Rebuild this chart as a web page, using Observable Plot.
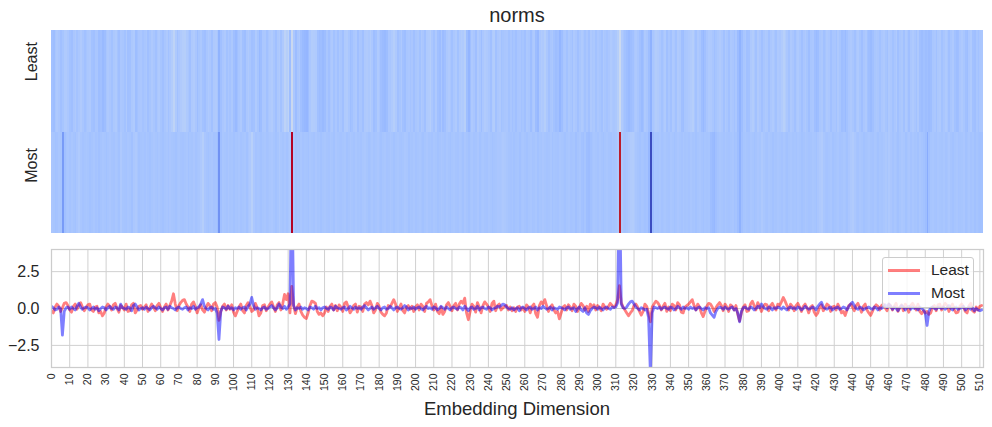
<!DOCTYPE html>
<html>
<head>
<meta charset="utf-8">
<script src="https://cdn.jsdelivr.net/npm/d3@7"></script>
<script src="https://cdn.jsdelivr.net/npm/@observablehq/plot@0.6"></script>
<style>
  body { margin: 0; background: #fff; }
  #wrap { position: relative; width: 992px; height: 427px; font-family: "Liberation Sans", Arial, sans-serif; color: #262626; overflow: hidden; }
  .abs { position: absolute; }
  #title { left: 51px; width: 932px; top: 5px; text-align: center; font-size: 20px; line-height: 1; }
  #xlabel { left: 51px; width: 932px; top: 400px; text-align: center; font-size: 18.5px; line-height: 1; }
  #legend { left: 882px; top: 257px; width: 92px; height: 51px; background: rgba(255,255,255,0.8); border: 1px solid #cccccc; border-radius: 3px; box-sizing: border-box; }
  .sw { position: absolute; left: 5px; width: 32px; height: 3px; }
  .lt { position: absolute; left: 48px; font-size: 15.5px; line-height: 1; }
</style>
</head>
<body>
<div id="wrap">
  <div id="title" class="abs">norms</div>
  <div id="heat" class="abs" style="left:0;top:30px"></div>
  <div id="lines" class="abs" style="left:0;top:233px"></div>
  <div id="xlabel" class="abs">Embedding Dimension</div>
  <div id="legend" class="abs"></div>
</div>
<script>
// ---- data ----
const rowNames = ["Least", "Most"];
const seriesColors = ["#ff0000", "#0000ff"];
const xTicks = d3.range(0, 511, 10);
const yTicks = [-2.5, 0, 2.5];

const least = [
-0.15,-0.3,0.1,0.3,0.15,-0.2,0.05,0.35,0.4,0.2,
-0.1,-0.25,0.15,0.3,-0.05,0.2,0.4,0.1,-0.15,0.05,
0.25,0.3,-0.1,-0.2,0.1,0.15,-0.3,-0.2,-0.5,-0.3,
0.1,0.3,0.15,-0.1,0.25,0.35,0.0,-0.25,0.2,0.1,
-0.1,0.3,-0.2,-0.15,0.25,0.35,-0.3,-0.1,0.15,0.2,
-0.05,0.1,0.25,-0.2,0.05,0.3,0.1,-0.15,0.2,0.35,
0.05,-0.2,0.1,0.3,-0.1,0.2,0.5,1.0,0.3,-0.15,
0.2,0.4,0.55,0.6,0.3,0.1,-0.2,0.3,0.45,0.15,
-0.3,0.05,0.25,-0.1,-0.25,0.1,0.35,0.2,-0.15,0.3,
0.4,0.1,-0.8,-0.2,0.15,0.3,-0.1,0.2,-0.05,0.25,
-0.25,-0.5,-0.2,0.1,0.3,-0.15,-0.3,0.2,0.4,0.1,
-0.2,-0.1,0.35,0.05,-0.5,-0.3,0.2,0.25,-0.15,0.1,
0.3,0.45,0.1,-0.2,0.25,0.4,-0.1,0.3,0.95,0.6,
1.0,-0.3,1.5,0.2,-0.35,0.1,0.3,-0.2,-0.45,-0.6,
-0.68,-0.3,0.2,0.5,0.45,0.35,-0.2,-0.4,-0.3,-0.5,
-0.3,0.1,-0.2,0.15,0.3,-0.1,0.2,-0.15,0.25,0.1,
-0.2,0.35,0.45,0.1,-0.3,-0.1,0.2,0.3,-0.25,0.15,
0.1,-0.2,0.3,0.4,0.25,0.5,0.2,-0.3,-0.1,0.35,
0.15,-0.25,-0.4,-0.5,-0.3,0.2,0.1,0.35,0.6,0.3,
-0.2,0.05,0.3,-0.15,-0.3,0.1,0.2,-0.05,0.15,-0.2,
0.1,0.25,-0.1,0.3,0.15,-0.2,0.35,0.45,0.6,0.2,
-0.1,0.3,-0.2,-0.35,0.1,-0.4,-0.2,0.25,0.4,0.15,
-0.15,0.2,0.35,-0.1,0.3,0.5,0.35,0.7,-0.3,-0.76,
-0.2,0.3,0.15,-0.25,0.4,0.1,-0.3,0.2,0.45,0.3,
0.1,-0.2,0.35,0.5,-0.15,0.2,0.3,-0.1,0.05,0.15,
0.2,-0.1,0.1,-0.15,0.05,-0.2,0.1,0.15,-0.1,0.05,
-0.2,0.25,0.1,-0.3,0.15,0.3,-0.35,-0.6,0.2,0.45,
0.3,0.6,0.2,-0.2,0.1,0.25,-0.1,-0.3,-0.2,-0.7,
-0.3,0.1,0.2,-0.1,0.25,0.1,-0.15,0.3,0.15,-0.2,
0.1,0.35,0.2,-0.1,0.15,-0.2,0.3,0.1,0.25,-0.1,
0.2,0.05,-0.15,0.3,0.1,-0.05,0.15,0.35,0.2,0.1,
0.25,0.6,1.55,0.4,0.1,-0.1,-0.3,-0.5,-0.3,-0.15,
0.2,0.3,0.1,-0.2,-0.45,-0.2,0.3,0.15,-0.3,-0.9,
0.1,0.3,0.5,0.4,0.2,-0.1,0.15,0.35,-0.2,0.1,
-0.15,0.3,0.2,-0.1,0.4,0.25,-0.25,-0.3,0.1,0.2,
0.3,0.45,0.6,0.2,-0.1,0.3,0.1,-0.3,-0.55,-0.2,
0.15,0.35,0.3,0.1,-0.2,0.05,0.25,0.4,0.2,-0.15,
0.3,0.1,-0.2,0.25,0.15,-0.1,0.2,-0.4,-0.85,-0.3,
0.1,0.25,-0.2,-0.15,0.3,0.5,0.2,-0.1,0.4,0.15,
-0.2,0.1,0.3,0.25,-0.15,0.2,0.35,0.1,-0.1,0.3,
0.2,0.45,0.75,0.5,0.2,-0.1,0.3,0.15,-0.15,0.2,
0.35,0.1,-0.2,0.15,0.3,0.05,-0.3,0.1,0.2,-0.25,
-0.47,-0.3,0.1,0.25,-0.15,0.05,0.3,0.2,-0.2,0.1,
0.15,-0.1,0.3,0.05,-0.3,-0.2,-0.47,-0.1,0.2,0.3,
0.1,-0.15,0.2,0.35,0.05,-0.25,0.15,0.3,-0.1,-0.3,
-0.47,-0.2,0.1,0.25,0.15,-0.1,0.2,0.3,0.05,-0.15,
0.3,0.2,-0.1,0.15,0.35,-0.2,0.1,0.25,-0.15,0.3,
0.1,-0.25,0.2,0.35,0.15,-0.1,0.3,-0.2,-0.35,-0.15,
-0.3,-0.2,-0.4,-0.3,0.1,0.2,-0.15,0.25,0.3,-0.1,
0.15,0.35,0.2,-0.2,0.1,0.3,-0.1,-0.3,-0.25,0.15,
0.3,0.1,-0.2,-0.3,0.2,0.35,-0.15,-0.25,0.1,-0.1,
0.15,0.2
];

const most = [
0.15,0.05,-0.1,-0.05,0.1,0.0,-1.8,-0.2,0.05,0.1,
-0.05,0.1,0.0,-0.1,0.15,0.35,0.1,-0.05,0.05,0.1,
0.05,-0.1,0.0,0.1,-0.05,0.05,-0.15,0.0,0.1,0.05,
-0.1,0.05,0.15,0.0,-0.05,0.1,0.05,-0.1,0.3,0.05,
0.0,-0.05,0.1,0.05,-0.15,0.2,0.3,0.1,-0.1,0.0,
0.05,-0.05,0.1,0.0,-0.1,0.05,0.15,0.05,-0.05,0.1,
0.0,-0.1,0.05,0.1,-0.05,0.15,0.05,0.0,-0.1,0.05,
0.1,0.0,-0.05,0.05,0.1,-0.1,0.05,0.0,0.15,-0.05,
0.05,0.1,0.3,0.6,0.15,0.0,-0.1,0.05,0.1,-0.05,
0.0,-0.3,-2.1,-0.2,0.1,0.05,-0.05,0.15,0.0,0.05,
-0.1,0.05,0.0,0.1,-0.05,0.05,0.1,-0.1,0.15,0.3,
0.75,0.2,-0.05,0.05,0.0,-0.1,0.05,0.1,-0.05,0.0,
0.1,0.2,0.05,-0.1,0.05,0.3,0.1,0.0,0.15,-0.05,
0.1,0.3,9.3,0.2,-0.1,0.05,0.0,0.1,-0.05,0.05,
0.0,-0.1,0.1,0.05,-0.05,0.15,0.0,0.05,-0.1,0.05,
0.1,0.0,-0.05,0.1,0.05,-0.1,0.15,0.05,0.0,-0.05,
0.05,0.1,-0.1,0.0,0.15,0.05,-0.05,0.1,0.0,0.05,
-0.05,0.1,0.2,0.05,-0.1,0.0,0.1,-0.05,0.05,0.15,
0.0,-0.1,0.05,0.1,-0.05,0.0,0.15,0.05,-0.1,0.05,
0.1,0.0,-0.05,0.05,0.2,0.1,-0.1,0.05,0.0,0.1,
-0.05,0.05,0.1,0.0,-0.1,0.05,0.15,0.0,0.05,-0.05,
0.1,0.05,-0.1,0.0,0.15,0.05,-0.05,0.1,0.0,-0.1,
0.05,0.1,0.0,-0.05,0.1,0.05,-0.1,0.15,0.0,-0.15,
0.05,0.1,-0.05,0.0,0.15,-0.1,0.05,0.1,0.0,-0.05,
0.1,0.05,-0.1,0.0,0.05,0.15,0.1,0.2,0.3,0.25,
0.1,0.0,-0.05,0.05,-0.1,0.0,0.05,-0.15,0.05,0.1,
0.0,-0.1,0.05,0.1,-0.05,0.0,0.1,-0.1,0.05,0.0,
0.15,0.05,-0.05,0.0,0.1,-0.1,0.05,0.0,-0.05,0.1,
0.05,0.0,-0.1,0.05,0.1,-0.05,0.0,0.05,-0.2,0.0,
0.1,-0.1,-0.2,0.05,-0.3,-0.4,-0.15,0.0,0.1,0.05,
-0.05,0.1,0.0,-0.1,0.05,0.1,0.0,-0.05,0.1,0.05,
0.1,0.4,9.0,0.3,0.05,0.0,0.1,0.3,0.45,0.5,
0.3,0.1,0.0,-0.1,0.05,0.0,-0.1,-0.05,-0.6,-4.4,
-0.3,0.1,0.05,0.0,0.1,-0.05,0.05,0.1,0.0,-0.05,
0.1,0.05,-0.1,0.0,0.15,0.05,-0.05,0.1,0.0,0.05,
-0.05,0.1,0.0,0.05,-0.1,0.05,0.1,0.0,-0.1,0.05,
0.0,0.05,-0.3,-0.45,-0.6,-0.2,0.0,0.1,0.05,-0.05,
0.1,0.0,-0.05,0.05,0.1,-0.1,0.0,-0.3,-0.9,-0.2,
0.05,0.1,0.0,-0.05,0.1,0.05,-0.1,0.0,0.15,0.05,
0.3,0.1,0.0,-0.05,0.1,0.05,-0.1,0.05,0.0,0.1,
0.05,-0.05,0.1,0.0,-0.1,0.05,0.1,0.0,0.05,-0.05,
0.1,0.05,-0.1,0.0,0.15,0.05,-0.05,0.0,0.1,0.05,
-0.1,0.15,0.3,0.43,0.1,0.0,-0.05,0.05,0.1,-0.1,
0.0,0.05,0.1,-0.05,0.0,0.1,0.05,-0.1,0.15,0.3,
0.43,0.2,0.0,-0.05,0.1,0.05,-0.1,0.0,0.05,0.1,
0.0,-0.05,0.1,0.05,-0.1,0.05,0.0,0.1,0.25,0.05,
0.3,0.15,-0.05,0.1,0.0,-0.15,0.05,0.2,0.1,-0.1,
0.05,0.15,-0.05,0.1,0.0,0.05,-0.1,0.1,0.0,-0.1,
-0.3,-1.15,-0.2,0.05,0.1,0.0,-0.05,0.1,0.05,0.0,
0.1,-0.05,0.05,0.2,0.0,-0.1,0.05,0.1,-0.05,0.0,
0.05,0.15,-0.1,0.0,0.1,-0.05,0.05,-0.15,0.0,-0.1,
-0.15,-0.1
];

// coolwarm colormap stops (matplotlib)
const coolwarmStops = ["#3b4cc0","#445acc","#4d68d7","#5775e1","#6282ea","#6c8ef1","#779af7","#82a5fb","#8db0fe","#98b9ff","#a3c2ff","#aec9fd","#b8d0f9","#c2d5f4","#ccd9ee","#d5dbe6","#dddddd","#e5d8d1","#ecd3c5","#f1ccb8","#f5c4ac","#f7bb9f","#f7b193","#f7a686","#f49a7b","#f18d6f","#ec7f63","#e57058","#de604d","#d55042","#cb3e38","#c0282f","#b40426"];

// ---- derived tables ----
const series = [least, most];
const cells = series.flatMap((vals, r) => vals.map((v, i) => ({r, i, v})));
const rows = rowNames.map((name, r) => ({r, name}));
const idx = d3.range(least.length);

const coolwarm = d3.piecewise(d3.interpolateRgb, coolwarmStops);
const font = "'Liberation Sans', Arial, sans-serif";

const heat = Plot.plot({
  width: 992, height: 203,
  marginLeft: 51, marginRight: 9, marginTop: 0, marginBottom: 0,
  style: {fontFamily: font, color: "#262626", background: "transparent", overflow: "visible"},
  x: {domain: [0, least.length], axis: null},
  y: {domain: [2, 0], axis: null},
  color: {type: "linear", domain: d3.extent(cells, d => d.v), interpolate: coolwarm},
  marks: [
    Plot.rect(cells, {x1: d => d.i, x2: d => d.i + 1, y1: d => d.r, y2: d => d.r + 1, fill: d => d.v, shapeRendering: "crispEdges"}),
    Plot.text(rows, {y: d => d.r + 0.5, text: d => d.name, frameAnchor: "left", dx: -20, rotate: -90, fontSize: 16, fill: "#262626"})
  ]
});
document.getElementById("heat").appendChild(heat);

const lines = Plot.plot({
  width: 992, height: 170,
  marginLeft: 51, marginRight: 9, marginTop: 16, marginBottom: 36,
  style: {fontFamily: font, color: "#262626", background: "transparent", overflow: "visible"},
  x: {domain: [0, least.length]},
  y: {domain: [-4, 4]},
  marks: [
    Plot.gridX(xTicks, {stroke: "#d0d0d0", strokeOpacity: 1, strokeWidth: 1}),
    Plot.gridY(yTicks, {stroke: "#d0d0d0", strokeOpacity: 1, strokeWidth: 1}),
    Plot.line(idx, {x: i => i, y: i => least[i], stroke: seriesColors[0], strokeOpacity: 0.5, strokeWidth: 2.8, clip: true}),
    Plot.line(idx, {x: i => i, y: i => most[i], stroke: seriesColors[1], strokeOpacity: 0.5, strokeWidth: 2.8, clip: true}),
    Plot.frame({stroke: "#cccccc", strokeWidth: 1.25}),
    Plot.axisX(xTicks, {tickRotate: -90, tickSize: 0, tickPadding: 6, fontSize: 10.5, label: null}),
    Plot.axisY(yTicks, {tickSize: 0, tickPadding: 12, fontSize: 16, tickFormat: d3.format(".1f"), label: null})
  ]
});
document.getElementById("lines").appendChild(lines);

// legend (overlay, semi-transparent like matplotlib)
const legend = document.getElementById("legend");
rowNames.forEach((name, k) => {
  const sw = document.createElement("div");
  sw.className = "sw";
  sw.style.top = (11 + k * 23.4) + "px";
  sw.style.background = seriesColors[k];
  sw.style.opacity = 0.5;
  legend.appendChild(sw);
  const t = document.createElement("div");
  t.className = "lt";
  t.style.top = (4 + k * 23.4) + "px";
  t.textContent = name;
  legend.appendChild(t);
});
</script>
</body>
</html>
